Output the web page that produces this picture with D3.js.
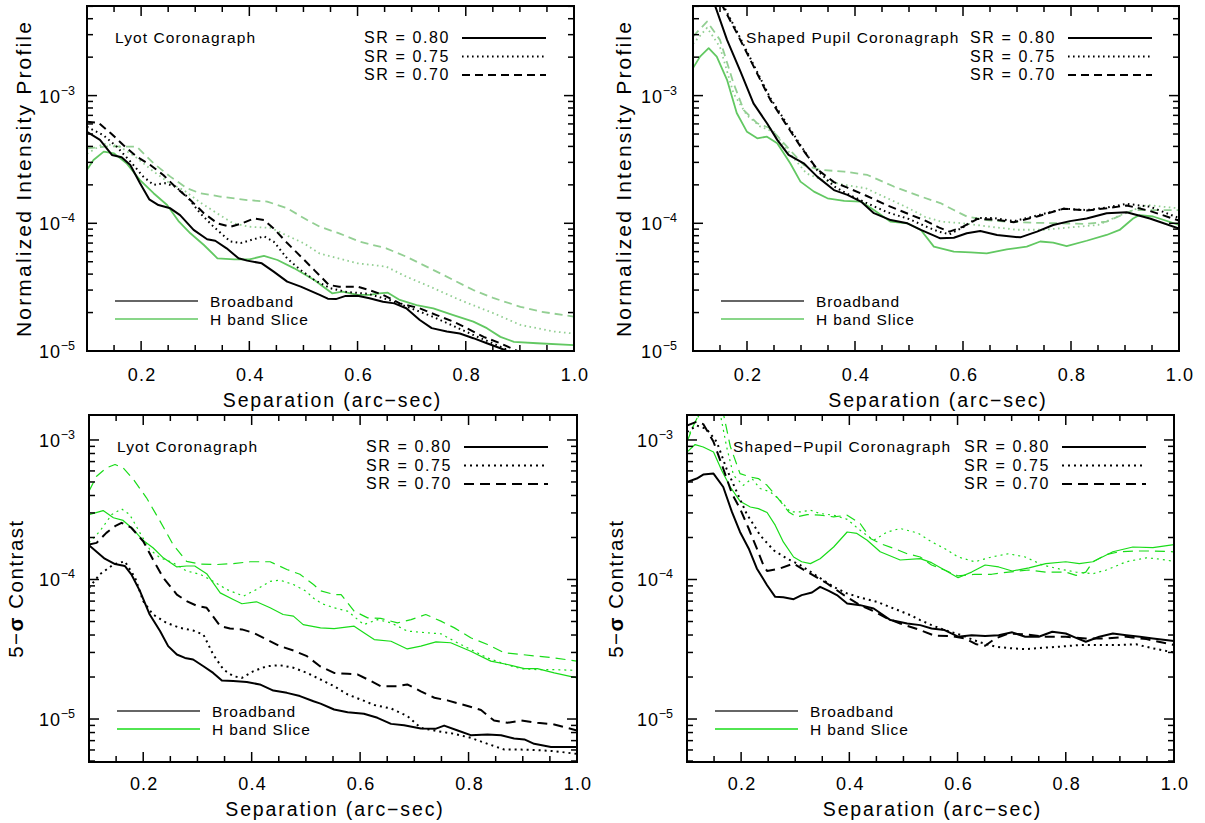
<!DOCTYPE html>
<html><head><meta charset="utf-8">
<script src="https://cdn.jsdelivr.net/npm/d3@7"></script>
<style>body{margin:0;background:#fff}</style>
</head><body><svg id="c" width="1205" height="823"></svg>
<script>
// ---------------- DATA (separation arcsec, value) ----------------
// Top-left: Lyot, normalized intensity profile
const intLyotBB80 = [[0.10,5.2e-4],[0.124,4.5e-4],[0.146,3.43e-4],[0.164,3.29e-4],[0.18,2.86e-4],[0.198,2.06e-4],[0.215,1.54e-4],[0.232,1.39e-4],[0.254,1.31e-4],[0.272,1.16e-4],[0.297,8.87e-5],[0.322,7.5e-5],[0.337,7.3e-5],[0.358,6.37e-5],[0.38,5.32e-5],[0.396,5.1e-5],[0.423,4.86e-5],[0.445,4.18e-5],[0.47,3.49e-5],[0.495,3.19e-5],[0.53,2.75e-5],[0.545,2.57e-5],[0.56,2.55e-5],[0.578,2.7e-5],[0.6,2.71e-5],[0.622,2.59e-5],[0.647,2.43e-5],[0.668,2.36e-5],[0.69,2.16e-5],[0.715,1.75e-5],[0.737,1.51e-5],[0.765,1.42e-5],[0.789,1.37e-5],[0.814,1.26e-5],[0.839,1.15e-5],[0.864,1.05e-5],[0.876,1.0e-5],[0.92,8.8e-6]];
const intLyotBB75 = [[0.10,5.7e-4],[0.13,4.9e-4],[0.155,3.98e-4],[0.183,2.95e-4],[0.204,2.32e-4],[0.223,2.0e-4],[0.244,2.06e-4],[0.263,1.94e-4],[0.285,1.62e-4],[0.309,1.2e-4],[0.334,9.4e-5],[0.365,7.2e-5],[0.384,7.0e-5],[0.408,7.5e-5],[0.427,7.9e-5],[0.445,7.2e-5],[0.47,5.3e-5],[0.495,4.3e-5],[0.52,3.6e-5],[0.55,3.1e-5],[0.58,2.9e-5],[0.62,2.8e-5],[0.66,2.5e-5],[0.70,2.15e-5],[0.74,1.85e-5],[0.78,1.55e-5],[0.82,1.3e-5],[0.86,1.1e-5],[0.89,9.6e-6]];
const intLyotBB70 = [[0.10,6.25e-4],[0.122,6.1e-4],[0.144,5.07e-4],[0.167,4.1e-4],[0.192,3.33e-4],[0.217,2.86e-4],[0.241,2.39e-4],[0.266,1.88e-4],[0.291,1.52e-4],[0.316,1.2e-4],[0.341,1.0e-4],[0.365,9.4e-5],[0.387,1.0e-4],[0.408,1.09e-4],[0.427,1.06e-4],[0.445,9.1e-5],[0.47,7.0e-5],[0.495,5.5e-5],[0.52,4.3e-5],[0.529,3.94e-5],[0.547,3.29e-5],[0.566,3.19e-5],[0.6,3.19e-5],[0.622,3.0e-5],[0.647,2.75e-5],[0.678,2.36e-5],[0.715,2.16e-5],[0.746,1.91e-5],[0.777,1.7e-5],[0.802,1.51e-5],[0.833,1.29e-5],[0.864,1.15e-5],[0.895,1.0e-5],[0.93,8.8e-6]];
const intLyotH80 = [[0.10,2.62e-4],[0.112,3.13e-4],[0.131,3.64e-4],[0.15,3.53e-4],[0.173,2.95e-4],[0.198,2.18e-4],[0.223,1.72e-4],[0.248,1.39e-4],[0.27,1.03e-4],[0.291,8.35e-5],[0.316,6.76e-5],[0.341,5.32e-5],[0.372,5.22e-5],[0.40,5.22e-5],[0.427,5.55e-5],[0.452,5.16e-5],[0.483,4.44e-5],[0.52,3.6e-5],[0.553,2.83e-5],[0.572,2.92e-5],[0.6,2.75e-5],[0.622,2.75e-5],[0.64,2.83e-5],[0.656,2.86e-5],[0.678,2.51e-5],[0.709,2.29e-5],[0.74,2.16e-5],[0.777,1.91e-5],[0.814,1.7e-5],[0.839,1.51e-5],[0.864,1.29e-5],[0.889,1.18e-5],[0.932,1.15e-5],[1.0,1.11e-5]];
const intLyotH75 = [[0.10,3.5e-4],[0.13,4.2e-4],[0.16,4.0e-4],[0.19,3.3e-4],[0.22,2.6e-4],[0.25,2.1e-4],[0.28,1.8e-4],[0.31,1.45e-4],[0.34,1.2e-4],[0.37,1.0e-4],[0.40,9.4e-5],[0.44,9.2e-5],[0.47,8.0e-5],[0.50,7.0e-5],[0.53,5.8e-5],[0.6,4.86e-5],[0.653,4.58e-5],[0.69,3.82e-5],[0.734,3.19e-5],[0.789,2.51e-5],[0.852,1.97e-5],[0.901,1.6e-5],[0.963,1.42e-5],[1.0,1.37e-5]];
const intLyotH70 = [[0.10,3.87e-4],[0.14,4.0e-4],[0.192,3.98e-4],[0.223,2.95e-4],[0.254,2.32e-4],[0.285,1.88e-4],[0.309,1.72e-4],[0.346,1.62e-4],[0.396,1.52e-4],[0.433,1.48e-4],[0.47,1.31e-4],[0.507,1.06e-4],[0.53,9.4e-5],[0.566,8.35e-5],[0.603,7.2e-5],[0.653,6.37e-5],[0.69,5.48e-5],[0.734,4.44e-5],[0.777,3.6e-5],[0.814,3.0e-5],[0.852,2.59e-5],[0.901,2.22e-5],[0.939,2.03e-5],[1.0,1.86e-5]];

// Top-right: Shaped pupil, normalized intensity profile
const intSpcBB80 = [[0.13,6.5e-3],[0.141,5.04e-3],[0.163,2.73e-3],[0.188,1.54e-3],[0.212,8.7e-4],[0.237,6.07e-4],[0.256,4.5e-4],[0.277,3.43e-4],[0.305,2.95e-4],[0.33,2.32e-4],[0.361,1.82e-4],[0.386,1.67e-4],[0.411,1.48e-4],[0.435,1.2e-4],[0.466,1.06e-4],[0.497,1.0e-4],[0.522,8.87e-5],[0.558,7.63e-5],[0.583,7.7e-5],[0.607,8.35e-5],[0.632,8.7e-5],[0.663,8.1e-5],[0.706,7.76e-5],[0.737,8.6e-5],[0.767,9.7e-5],[0.798,1.04e-4],[0.829,1.09e-4],[0.866,1.2e-4],[0.903,1.22e-4],[0.946,1.09e-4],[1.0,9.1e-5]];
const intSpcBB75 = [[0.14,6.5e-3],[0.155,5.2e-3],[0.181,3.2e-3],[0.212,1.75e-3],[0.243,9.6e-4],[0.274,6.0e-4],[0.299,4.1e-4],[0.33,2.6e-4],[0.361,1.95e-4],[0.386,1.7e-4],[0.42,1.45e-4],[0.46,1.22e-4],[0.50,1.08e-4],[0.53,9.5e-5],[0.555,8.6e-5],[0.575,8.2e-5],[0.60,9.3e-5],[0.626,1.1e-4],[0.657,1.1e-4],[0.694,1.04e-4],[0.737,1.15e-4],[0.786,1.3e-4],[0.829,1.27e-4],[0.866,1.33e-4],[0.903,1.42e-4],[0.946,1.35e-4],[1.0,1.1e-4]];
const intSpcBB70 = [[0.14,6.5e-3],[0.155,5.0e-3],[0.181,3.1e-3],[0.212,1.7e-3],[0.243,9.3e-4],[0.274,5.8e-4],[0.299,4.0e-4],[0.33,2.65e-4],[0.361,2.1e-4],[0.386,1.9e-4],[0.42,1.65e-4],[0.46,1.38e-4],[0.50,1.18e-4],[0.53,1.05e-4],[0.555,9.3e-5],[0.575,8.6e-5],[0.60,9.4e-5],[0.626,1.08e-4],[0.657,1.07e-4],[0.694,1.02e-4],[0.737,1.13e-4],[0.786,1.3e-4],[0.829,1.26e-4],[0.866,1.31e-4],[0.903,1.38e-4],[0.946,1.25e-4],[1.0,1.05e-4]];
const intSpcH80 = [[0.10,1.64e-3],[0.113,2.02e-3],[0.129,2.35e-3],[0.144,2.02e-3],[0.163,1.33e-3],[0.181,7.3e-4],[0.20,5.2e-4],[0.219,4.63e-4],[0.237,4.77e-4],[0.256,4.24e-4],[0.28,2.95e-4],[0.299,2.12e-4],[0.324,1.77e-4],[0.349,1.57e-4],[0.38,1.5e-4],[0.411,1.48e-4],[0.435,1.27e-4],[0.466,1.03e-4],[0.497,1.0e-4],[0.522,8.87e-5],[0.546,6.57e-5],[0.583,6.0e-5],[0.614,5.93e-5],[0.644,5.82e-5],[0.681,6.25e-5],[0.718,6.57e-5],[0.743,7.2e-5],[0.767,7.06e-5],[0.792,6.64e-5],[0.829,7.3e-5],[0.866,8.1e-5],[0.89,8.87e-5],[0.915,1.09e-4],[0.927,1.16e-4],[0.952,1.13e-4],[1.0,9.7e-5]];
const intSpcH75 = [[0.10,2.54e-3],[0.126,3.4e-3],[0.15,2.4e-3],[0.175,1.04e-3],[0.20,7.0e-4],[0.225,5.7e-4],[0.25,5.2e-4],[0.28,3.5e-4],[0.31,2.46e-4],[0.34,2.18e-4],[0.38,2.0e-4],[0.42,1.88e-4],[0.46,1.57e-4],[0.50,1.31e-4],[0.53,1.12e-4],[0.56,1.03e-4],[0.60,1.0e-4],[0.65,9.4e-5],[0.70,8.9e-5],[0.75,8.9e-5],[0.80,9.3e-5],[0.85,9.7e-5],[0.90,1.2e-4],[0.94,1.39e-4],[1.0,1.31e-4]];
const intSpcH70 = [[0.10,2.9e-3],[0.126,3.8e-3],[0.15,2.73e-3],[0.175,1.25e-3],[0.194,7.7e-4],[0.219,6.07e-4],[0.243,5.55e-4],[0.274,3.98e-4],[0.305,2.86e-4],[0.336,2.62e-4],[0.38,2.54e-4],[0.423,2.39e-4],[0.472,1.94e-4],[0.522,1.62e-4],[0.558,1.44e-4],[0.583,1.27e-4],[0.607,1.13e-4],[0.644,1.06e-4],[0.681,1.03e-4],[0.73,1.01e-4],[0.78,1.0e-4],[0.829,9.9e-5],[0.866,1.03e-4],[0.915,1.27e-4],[0.952,1.27e-4],[1.0,1.27e-4]];

// Bottom-left: Lyot, 5-sigma contrast
const conLyotBB80 = [[0.10,1.76e-4],[0.129,1.41e-4],[0.148,1.29e-4],[0.166,1.25e-4],[0.178,1.09e-4],[0.194,8.25e-5],[0.212,5.61e-5],[0.231,4.27e-5],[0.246,3.33e-5],[0.262,2.9e-5],[0.277,2.74e-5],[0.292,2.67e-5],[0.311,2.39e-5],[0.329,2.14e-5],[0.345,1.89e-5],[0.366,1.87e-5],[0.391,1.84e-5],[0.415,1.77e-5],[0.44,1.6e-5],[0.465,1.54e-5],[0.489,1.46e-5],[0.514,1.34e-5],[0.527,1.29e-5],[0.552,1.17e-5],[0.577,1.12e-5],[0.607,1.09e-5],[0.632,1.02e-5],[0.657,9.23e-6],[0.681,9.03e-6],[0.712,8.55e-6],[0.74,8.53e-6],[0.755,8.97e-6],[0.78,8.28e-6],[0.804,7.66e-6],[0.835,7.74e-6],[0.86,7.66e-6],[0.884,7.24e-6],[0.903,7.14e-6],[0.921,6.64e-6],[0.952,6.31e-6],[1.0,6.31e-6]];
const conLyotBB75 = [[0.10,8.7e-5],[0.12,1.09e-4],[0.145,1.28e-4],[0.166,1.35e-4],[0.185,1.03e-4],[0.20,7.0e-5],[0.218,5.61e-5],[0.243,4.89e-5],[0.268,4.5e-5],[0.292,4.31e-5],[0.311,4.03e-5],[0.329,2.9e-5],[0.348,2.26e-5],[0.366,2.03e-5],[0.382,1.97e-5],[0.403,2.2e-5],[0.428,2.39e-5],[0.452,2.43e-5],[0.477,2.33e-5],[0.502,2.14e-5],[0.527,1.92e-5],[0.552,1.72e-5],[0.577,1.5e-5],[0.601,1.38e-5],[0.626,1.26e-5],[0.657,1.19e-5],[0.687,1.05e-5],[0.712,8.65e-6],[0.743,8.18e-6],[0.774,7.83e-6],[0.804,7.33e-6],[0.835,6.64e-6],[0.866,6.04e-6],[0.897,6.04e-6],[0.927,5.98e-6],[0.958,5.89e-6],[1.0,5.62e-6]];
const conLyotBB70 = [[0.10,1.78e-4],[0.114,1.83e-4],[0.132,2.16e-4],[0.148,2.41e-4],[0.16,2.55e-4],[0.178,2.35e-4],[0.20,1.88e-4],[0.218,1.39e-4],[0.237,1.03e-4],[0.262,7.8e-5],[0.28,7.0e-5],[0.298,6.5e-5],[0.317,6.27e-5],[0.342,4.63e-5],[0.36,4.45e-5],[0.382,4.39e-5],[0.403,4.15e-5],[0.428,3.71e-5],[0.452,3.33e-5],[0.477,3.1e-5],[0.502,2.82e-5],[0.526,2.39e-5],[0.552,2.14e-5],[0.577,2.11e-5],[0.595,2.09e-5],[0.62,1.87e-5],[0.638,1.72e-5],[0.669,1.72e-5],[0.687,1.77e-5],[0.712,1.58e-5],[0.737,1.42e-5],[0.761,1.36e-5],[0.792,1.26e-5],[0.823,1.16e-5],[0.847,9.75e-6],[0.872,9.4e-6],[0.897,9.77e-6],[0.927,9.4e-6],[0.958,9.14e-6],[1.0,8.28e-6]];
const conLyotH80 = [[0.10,2.92e-4],[0.126,3.12e-4],[0.145,2.77e-4],[0.163,2.65e-4],[0.182,2.28e-4],[0.20,1.9e-4],[0.218,1.69e-4],[0.237,1.43e-4],[0.262,1.23e-4],[0.28,1.25e-4],[0.295,1.25e-4],[0.317,1.1e-4],[0.342,8.02e-5],[0.366,7.19e-5],[0.382,6.7e-5],[0.409,6.92e-5],[0.434,6.27e-5],[0.458,5.61e-5],[0.477,5.46e-5],[0.495,4.75e-5],[0.527,4.5e-5],[0.552,4.44e-5],[0.589,4.63e-5],[0.607,4.15e-5],[0.626,3.71e-5],[0.657,3.61e-5],[0.687,3.18e-5],[0.712,3.33e-5],[0.74,3.57e-5],[0.767,3.52e-5],[0.804,3.06e-5],[0.841,2.6e-5],[0.872,2.46e-5],[0.903,2.3e-5],[0.927,2.3e-5],[0.958,2.14e-5],[1.0,1.97e-5]];
const conLyotH75 = [[0.10,1.83e-4],[0.12,2.22e-4],[0.142,2.92e-4],[0.16,3.21e-4],[0.175,2.92e-4],[0.194,2.16e-4],[0.212,1.64e-4],[0.231,1.43e-4],[0.255,1.32e-4],[0.28,1.15e-4],[0.305,1.09e-4],[0.329,9.7e-5],[0.354,8.48e-5],[0.385,7.6e-5],[0.409,8.48e-5],[0.434,9.7e-5],[0.452,9.9e-5],[0.477,9.2e-5],[0.50,8.25e-5],[0.515,7.3e-5],[0.53,6.7e-5],[0.552,6.27e-5],[0.577,5.93e-5],[0.607,4.75e-5],[0.632,5.16e-5],[0.657,4.89e-5],[0.687,4.27e-5],[0.724,4.15e-5],[0.749,4.08e-5],[0.774,3.61e-5],[0.804,3.15e-5],[0.835,2.74e-5],[0.866,2.48e-5],[0.897,2.29e-5],[0.927,2.26e-5],[0.958,2.26e-5],[1.0,2.23e-5]];
const conLyotH70 = [[0.10,4.3e-4],[0.114,5.5e-4],[0.132,6.31e-4],[0.148,6.67e-4],[0.163,6.31e-4],[0.182,5.21e-4],[0.206,3.85e-4],[0.231,2.62e-4],[0.255,1.78e-4],[0.28,1.35e-4],[0.305,1.29e-4],[0.335,1.28e-4],[0.366,1.3e-4],[0.397,1.34e-4],[0.434,1.34e-4],[0.465,1.18e-4],[0.489,1.09e-4],[0.514,9.2e-5],[0.527,8.3e-5],[0.552,7.8e-5],[0.565,7.8e-5],[0.589,5.93e-5],[0.614,5.31e-5],[0.638,5.26e-5],[0.669,4.89e-5],[0.694,5.16e-5],[0.721,5.61e-5],[0.749,5.03e-5],[0.774,4.5e-5],[0.804,3.82e-5],[0.835,3.42e-5],[0.866,2.98e-5],[0.897,2.9e-5],[0.927,2.82e-5],[0.958,2.74e-5],[1.0,2.6e-5]];

// Bottom-right: Shaped pupil, 5-sigma contrast
const conSpcBB80 = [[0.10,5.0e-4],[0.118,5.29e-4],[0.13,5.65e-4],[0.149,5.74e-4],[0.167,4.6e-4],[0.183,3.05e-4],[0.198,2.19e-4],[0.214,1.67e-4],[0.229,1.2e-4],[0.248,9.1e-5],[0.263,7.51e-5],[0.278,7.47e-5],[0.297,7.23e-5],[0.312,7.73e-5],[0.331,8.07e-5],[0.346,8.86e-5],[0.362,8.3e-5],[0.377,7.73e-5],[0.396,6.73e-5],[0.42,6.55e-5],[0.445,6.2e-5],[0.476,5.12e-5],[0.507,4.84e-5],[0.531,4.71e-5],[0.552,4.46e-5],[0.576,4.34e-5],[0.601,3.89e-5],[0.626,3.99e-5],[0.651,3.93e-5],[0.676,3.99e-5],[0.701,4.18e-5],[0.725,3.89e-5],[0.75,3.89e-5],[0.775,4.22e-5],[0.8,4.1e-5],[0.819,3.82e-5],[0.837,3.58e-5],[0.862,3.89e-5],[0.887,4.1e-5],[0.912,3.99e-5],[0.937,3.89e-5],[0.961,3.78e-5],[1.0,3.62e-5]];
const conSpcBB75 = [[0.10,1.14e-3],[0.118,1.27e-3],[0.136,1.2e-3],[0.155,9.7e-4],[0.173,6.23e-4],[0.192,4.24e-4],[0.21,2.97e-4],[0.235,2.08e-4],[0.26,1.62e-4],[0.285,1.41e-4],[0.309,1.27e-4],[0.34,1.06e-4],[0.371,8.86e-5],[0.396,7.94e-5],[0.42,7.43e-5],[0.451,6.92e-5],[0.482,6.2e-5],[0.513,5.55e-5],[0.531,5.12e-5],[0.552,4.71e-5],[0.576,4.34e-5],[0.607,3.99e-5],[0.638,3.58e-5],[0.67,3.3e-5],[0.701,3.21e-5],[0.725,3.17e-5],[0.757,3.24e-5],[0.788,3.3e-5],[0.825,3.39e-5],[0.862,3.39e-5],[0.899,3.39e-5],[0.93,3.43e-5],[0.961,3.21e-5],[1.0,3.0e-5]];
const conSpcBB70 = [[0.10,1.27e-3],[0.118,1.35e-3],[0.13,1.3e-3],[0.149,9.7e-4],[0.167,6.23e-4],[0.183,4.13e-4],[0.198,3.22e-4],[0.214,2.32e-4],[0.229,1.67e-4],[0.241,1.27e-4],[0.248,1.15e-4],[0.272,1.2e-4],[0.297,1.3e-4],[0.328,1.1e-4],[0.359,9.36e-5],[0.39,7.73e-5],[0.42,6.55e-5],[0.445,5.93e-5],[0.47,5.26e-5],[0.494,4.84e-5],[0.531,4.34e-5],[0.558,3.95e-5],[0.589,3.93e-5],[0.614,3.78e-5],[0.635,3.43e-5],[0.651,3.35e-5],[0.67,3.78e-5],[0.694,4.1e-5],[0.725,4.04e-5],[0.763,3.89e-5],[0.8,3.89e-5],[0.837,3.78e-5],[0.875,3.78e-5],[0.912,3.89e-5],[0.949,3.74e-5],[1.0,3.39e-5]];
const conSpcH80 = [[0.10,8.2e-4],[0.115,9.27e-4],[0.13,8.91e-4],[0.149,8.2e-4],[0.164,6.07e-4],[0.18,4.6e-4],[0.198,3.64e-4],[0.217,3.31e-4],[0.232,3.22e-4],[0.248,3.02e-4],[0.263,2.45e-4],[0.278,1.86e-4],[0.297,1.45e-4],[0.312,1.34e-4],[0.328,1.3e-4],[0.346,1.41e-4],[0.371,1.71e-4],[0.396,2.19e-4],[0.414,2.14e-4],[0.433,1.91e-4],[0.457,1.58e-4],[0.494,1.38e-4],[0.531,1.41e-4],[0.552,1.32e-4],[0.576,1.17e-4],[0.601,1.03e-4],[0.626,1.13e-4],[0.651,1.27e-4],[0.676,1.23e-4],[0.701,1.15e-4],[0.732,1.21e-4],[0.763,1.3e-4],[0.8,1.34e-4],[0.825,1.3e-4],[0.85,1.34e-4],[0.887,1.58e-4],[0.924,1.71e-4],[0.961,1.69e-4],[1.0,1.78e-4]];
const conSpcH75 = [[0.10,1.02e-3],[0.112,1.27e-3],[0.124,1.55e-3],[0.14,1.9e-3],[0.16,1.65e-3],[0.173,9.0e-4],[0.186,5.58e-4],[0.204,4.73e-4],[0.22,5.29e-4],[0.235,4.49e-4],[0.254,4.24e-4],[0.272,3.7e-4],[0.291,3.05e-4],[0.309,3.05e-4],[0.328,3.14e-4],[0.346,2.97e-4],[0.371,2.89e-4],[0.396,2.7e-4],[0.42,2.25e-4],[0.445,1.91e-4],[0.47,2.19e-4],[0.494,2.32e-4],[0.527,2.15e-4],[0.552,1.86e-4],[0.576,1.67e-4],[0.601,1.45e-4],[0.632,1.34e-4],[0.663,1.45e-4],[0.694,1.53e-4],[0.725,1.45e-4],[0.757,1.27e-4],[0.788,1.19e-4],[0.819,1.13e-4],[0.85,1.1e-4],[0.875,1.17e-4],[0.912,1.34e-4],[0.949,1.43e-4],[0.974,1.4e-4],[1.0,1.35e-4]];
const conSpcH70 = [[0.10,9.7e-4],[0.112,1.27e-3],[0.121,1.5e-3],[0.14,1.95e-3],[0.165,1.7e-3],[0.18,9.0e-4],[0.198,5.74e-4],[0.217,5.43e-4],[0.232,5.29e-4],[0.248,4.73e-4],[0.266,3.91e-4],[0.288,3.05e-4],[0.303,2.81e-4],[0.322,2.92e-4],[0.346,2.89e-4],[0.371,2.81e-4],[0.396,2.89e-4],[0.42,2.52e-4],[0.439,1.97e-4],[0.457,1.81e-4],[0.482,1.67e-4],[0.507,1.53e-4],[0.531,1.45e-4],[0.552,1.27e-4],[0.576,1.17e-4],[0.601,1.06e-4],[0.632,1.09e-4],[0.663,1.09e-4],[0.694,1.13e-4],[0.732,1.17e-4],[0.763,1.13e-4],[0.8,1.13e-4],[0.819,1.07e-4],[0.837,1.13e-4],[0.85,1.34e-4],[0.875,1.51e-4],[0.899,1.58e-4],[0.93,1.6e-4],[0.961,1.6e-4],[1.0,1.58e-4]];

// Text / tick labels
const xTickLabels = [0.2, 0.4, 0.6, 0.8, 1.0];
const srLabels = ["SR = 0.80", "SR = 0.75", "SR = 0.70"];
const bandLabels = ["Broadband", "H band Slice"];
const panelTitles = ["Lyot Coronagraph", "Shaped Pupil Coronagraph", "Lyot Coronagraph", "Shaped\u2212Pupil Coronagraph"];
const yTitleTop = "Normalized Intensity Profile";
const xTitle = "Separation (arc\u2212sec)";

// ---------------- DRAWING ----------------
const FONT = "'Liberation Sans', Arial, sans-serif";
const svg = d3.select("#c");

const dashTop = {solid: null, dot: "1.6,3.4", dash: "8,5"};
const dashBot = {solid: null, dot: "2,4", dash: "10,6"};

function seriesSet(bb, h, top) {
  const gSolid = top ? "#62c862" : "#19dc19";
  const gLight = top ? "#93cf93" : "#19dc19";
  const gw = top ? 1.8 : 1.2;
  const d = top ? dashTop : dashBot;
  return [
    {data: h[2], color: gLight, w: gw, dash: d.dash},
    {data: h[1], color: gLight, w: gw, dash: d.dot},
    {data: h[0], color: gSolid, w: gw, dash: d.solid},
    {data: bb[2], color: "#000", w: 2, dash: d.dash},
    {data: bb[1], color: "#000", w: 2, dash: d.dot},
    {data: bb[0], color: "#000", w: 2, dash: d.solid},
  ];
}

const panels = [
  {l:87, r:574, t:6, b:351, yMin:1e-5, yMax:5.03e-3, top:true, title:panelTitles[0], titleDx:28,
   yTitleX:31, labelGap:12, series: seriesSet([intLyotBB80,intLyotBB75,intLyotBB70],[intLyotH80,intLyotH75,intLyotH70],true)},
  {l:693, r:1179, t:6, b:351, yMin:1e-5, yMax:5.03e-3, top:true, title:panelTitles[1], titleDx:53,
   yTitleX:631, labelGap:16, series: seriesSet([intSpcBB80,intSpcBB75,intSpcBB70],[intSpcH80,intSpcH75,intSpcH70],true)},
  {l:89, r:577, t:415, b:762, yMin:4.92e-6, yMax:1.51e-3, top:false, title:panelTitles[2], titleDx:28,
   yTitleX:23, labelGap:14, series: seriesSet([conLyotBB80,conLyotBB75,conLyotBB70],[conLyotH80,conLyotH75,conLyotH70],false)},
  {l:687, r:1174, t:415, b:762, yMin:4.92e-6, yMax:1.51e-3, top:false, title:panelTitles[3], titleDx:46,
   yTitleX:623, labelGap:14, series: seriesSet([conSpcBB80,conSpcBB75,conSpcBB70],[conSpcH80,conSpcH75,conSpcH70],false)},
];

panels.forEach((p, i) => {
  const x = d3.scaleLinear().domain([0.1, 1.0]).range([p.l, p.r]);
  const y = d3.scaleLog().domain([p.yMin, p.yMax]).range([p.b, p.t]);
  const g = svg.append("g");
  const clipId = "clip" + i;
  svg.append("clipPath").attr("id", clipId).append("rect")
    .attr("x", p.l).attr("y", p.t).attr("width", p.r - p.l).attr("height", p.b - p.t);

  const line = d3.line().x(d => x(d[0])).y(d => y(d[1]));
  const cg = g.append("g").attr("clip-path", `url(#${clipId})`);
  p.series.forEach(s => {
    cg.append("path").attr("d", line(s.data)).attr("fill", "none")
      .attr("stroke", s.color).attr("stroke-width", s.w)
      .attr("stroke-dasharray", s.dash).attr("stroke-linejoin", "round");
  });

  // Frame
  g.append("rect").attr("x", p.l).attr("y", p.t).attr("width", p.r - p.l).attr("height", p.b - p.t)
    .attr("fill", "none").attr("stroke", "#000").attr("stroke-width", 2);

  // X ticks (inward, bottom and top)
  const xMinor = d3.range(0, 19).map(k => 0.1 + k * 0.05);
  xMinor.forEach(v => {
    const isMajor = xTickLabels.some(m => Math.abs(m - v) < 1e-6);
    const len = isMajor ? 10 : 6;
    const xx = x(v);
    g.append("line").attr("x1", xx).attr("x2", xx).attr("y1", p.b).attr("y2", p.b - len).attr("stroke", "#000").attr("stroke-width", 1.5);
    g.append("line").attr("x1", xx).attr("x2", xx).attr("y1", p.t).attr("y2", p.t + len).attr("stroke", "#000").attr("stroke-width", 1.5);
  });
  xTickLabels.forEach(v => {
    g.append("text").attr("x", x(v) + 1).attr("y", p.b + (p.top ? 30 : 28))
      .attr("text-anchor", "middle").attr("font-family", FONT).attr("font-size", 18)
      .attr("letter-spacing", 1.2).text(v.toFixed(1));
  });

  // Y ticks
  for (let e = -6; e <= -2; e++) {
    for (let m = 1; m <= 9; m++) {
      const v = m * Math.pow(10, e);
      if (v < p.yMin * 0.999 || v > p.yMax * 1.001) continue;
      const yy = y(v);
      const len = m === 1 ? 10 : 6;
      g.append("line").attr("x1", p.l).attr("x2", p.l + len).attr("y1", yy).attr("y2", yy).attr("stroke", "#000").attr("stroke-width", 1.5);
      g.append("line").attr("x1", p.r).attr("x2", p.r - len).attr("y1", yy).attr("y2", yy).attr("stroke", "#000").attr("stroke-width", 1.5);
      if (m === 1) {
        const t = g.append("text").attr("x", p.l - p.labelGap).attr("y", yy + 7)
          .attr("text-anchor", "end").attr("font-family", FONT);
        t.append("tspan").attr("font-size", 18).attr("letter-spacing", 0.8).text("10");
        t.append("tspan").attr("font-size", 12.5).attr("dy", -8).text("\u2212" + (-e));
      }
    }
  }

  // Axis titles
  g.append("text").attr("x", (p.l + p.r) / 2 + 2).attr("y", p.b + (p.top ? 56 : 54))
    .attr("text-anchor", "middle").attr("font-family", FONT).attr("font-size", 19.5)
    .attr("letter-spacing", 1.9).text(xTitle);
  const yt = g.append("text")
    .attr("transform", `translate(${p.yTitleX},${(p.t + p.b) / 2}) rotate(-90)`)
    .attr("text-anchor", "middle").attr("font-family", FONT);
  if (p.top) {
    yt.attr("font-size", 21).attr("letter-spacing", 2.2).text(yTitleTop);
  } else {
    yt.attr("font-size", 20.5).attr("letter-spacing", 1.5);
    yt.append("tspan").text("5\u2212");
    yt.append("tspan").attr("font-weight", "bold").text("\u03c3");
    yt.append("tspan").text(" Contrast");
  }

  // Panel title
  g.append("text").attr("x", p.l + p.titleDx).attr("y", p.t + 37)
    .attr("font-family", FONT).attr("font-size", 15.5).attr("letter-spacing", 1.1).text(p.title);

  // SR legend (top right)
  const srDash = p.top ? dashTop : dashBot;
  const srStyles = [srDash.solid, srDash.dot, srDash.dash];
  srLabels.forEach((lab, k) => {
    const by = p.t + 37 + k * 18.5;
    g.append("text").attr("x", p.l + 277).attr("y", by).attr("font-family", FONT)
      .attr("font-size", 16).attr("letter-spacing", 1.6).text(lab);
    g.append("line").attr("x1", p.l + 375).attr("x2", p.l + 459).attr("y1", by - 5).attr("y2", by - 5)
      .attr("stroke", "#000").attr("stroke-width", 2).attr("stroke-dasharray", srStyles[k]);
  });

  // Band legend (bottom left)
  const bandColors = ["#333", p.top ? "#62c862" : "#19dc19"];
  bandLabels.forEach((lab, k) => {
    const by = p.b - (p.top ? 44 : 45) + k * 18;
    g.append("line").attr("x1", p.l + 28).attr("x2", p.l + 111).attr("y1", by - 6).attr("y2", by - 6)
      .attr("stroke", bandColors[k]).attr("stroke-width", 1.5);
    g.append("text").attr("x", p.l + 123).attr("y", by).attr("font-family", FONT)
      .attr("font-size", 15.5).attr("letter-spacing", 0.9).text(lab);
  });
});
</script>
</body></html>
